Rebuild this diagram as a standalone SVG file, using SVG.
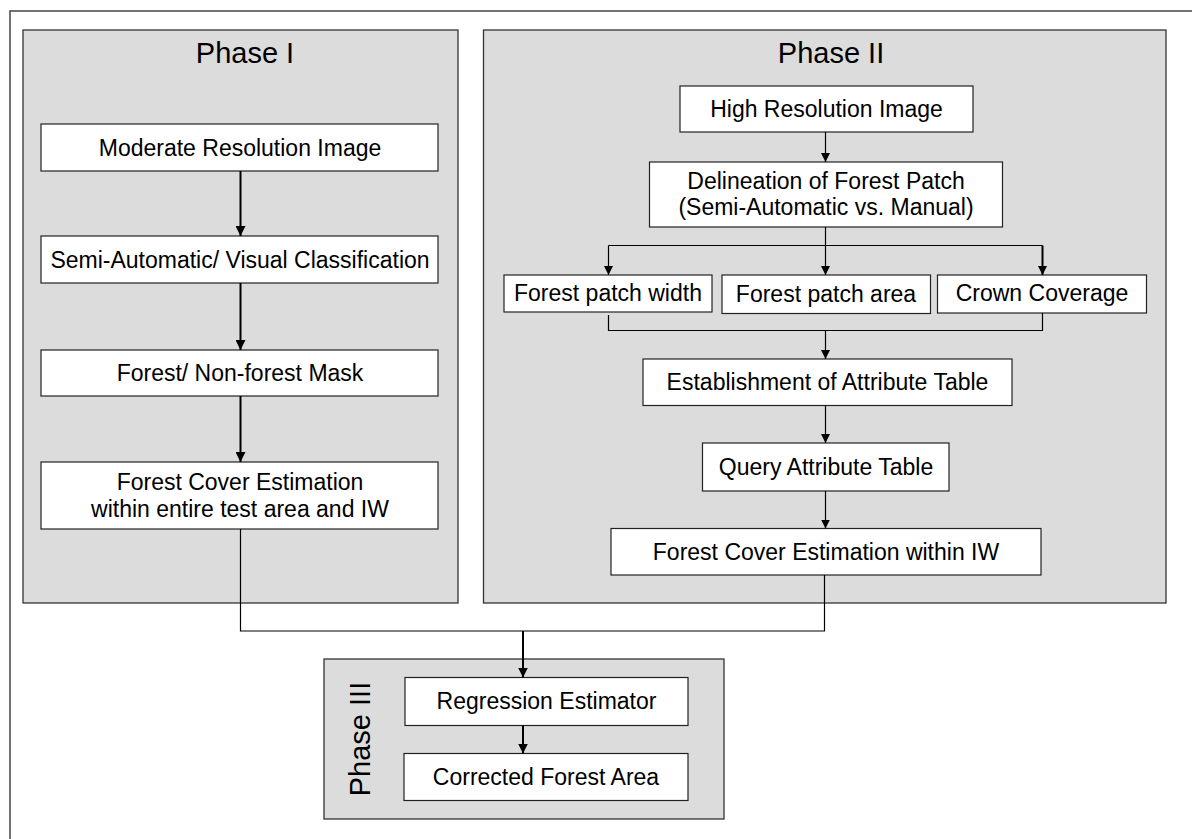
<svg xmlns="http://www.w3.org/2000/svg" width="1192" height="839" viewBox="0 0 1192 839">
<style>
.panel{fill:#dcdcdc;stroke:#333;stroke-width:1.3}
.box{fill:#fff;stroke:#222;stroke-width:1.2}
.t{font-family:"Liberation Sans",Arial,sans-serif;font-size:23px;fill:#000;text-anchor:middle}
.title{font-family:"Liberation Sans",Arial,sans-serif;font-size:29px;fill:#000;text-anchor:middle}
.c2{fill:none;stroke:#000;stroke-width:2}
.c1{fill:none;stroke:#000;stroke-width:1.2}
</style>
<defs>
<marker id="a2" viewBox="0 0 10 10" refX="10" refY="5" markerUnits="userSpaceOnUse" markerWidth="10" markerHeight="10" orient="auto"><path d="M0,0 L10,5 L0,10 Z" fill="#000"/></marker>
<marker id="a1" viewBox="0 0 10 10" refX="10" refY="5" markerUnits="userSpaceOnUse" markerWidth="9" markerHeight="9" orient="auto"><path d="M0,0 L10,5 L0,10 Z" fill="#000"/></marker>
</defs>
<rect width="1192" height="839" fill="#fff"/>
<g id="frame">
<path d="M10,839 V11 H1192" fill="none" stroke="#444" stroke-width="1.5"/>
</g>
<g id="phase1">
<rect class="panel" x="23" y="30" width="435" height="573"/>
<text class="title" x="245" y="63">Phase I</text>
</g>
<g id="phase2">
<rect class="panel" x="483.5" y="30" width="682.5" height="573"/>
<text class="title" x="831" y="63">Phase II</text>
</g>
<g id="phase3">
<rect class="panel" x="324" y="659" width="400" height="160"/>
<text class="title" transform="translate(370,739) rotate(-90)" x="0" y="0">Phase III</text>
</g>
<g id="n1"><rect class="box" x="41" y="124" width="397" height="47"/><text class="t" x="240" y="155.5">Moderate Resolution Image</text></g>
<g id="n2"><rect class="box" x="41" y="236" width="397" height="47"/><text class="t" x="240" y="267.5">Semi-Automatic/ Visual Classification</text></g>
<g id="n3"><rect class="box" x="41" y="350" width="397" height="46"/><text class="t" x="240" y="381">Forest/ Non-forest Mask</text></g>
<g id="n4"><rect class="box" x="41" y="462" width="397" height="67"/><text class="t" x="240" y="490">Forest Cover Estimation</text><text class="t" x="240" y="516.5">within entire test area and IW</text></g>
<g id="m1"><rect class="box" x="680" y="86" width="293" height="46"/><text class="t" x="826.5" y="117">High Resolution Image</text></g>
<g id="m2"><rect class="box" x="649.5" y="162" width="353" height="65"/><text class="t" x="826" y="189">Delineation of Forest Patch</text><text class="t" x="826" y="215">(Semi-Automatic vs. Manual)</text></g>
<g id="m3"><rect class="box" x="504" y="275" width="208" height="37"/><text class="t" x="608" y="301">Forest patch width</text></g>
<g id="m4"><rect class="box" x="722" y="275" width="208.5" height="38.5"/><text class="t" x="826" y="302">Forest patch area</text></g>
<g id="m5"><rect class="box" x="937.5" y="275" width="209" height="38"/><text class="t" x="1042" y="301">Crown Coverage</text></g>
<g id="m6"><rect class="box" x="643" y="359" width="369" height="46.5"/><text class="t" x="827.5" y="390">Establishment of Attribute Table</text></g>
<g id="m7"><rect class="box" x="702.5" y="443" width="246.5" height="48"/><text class="t" x="826" y="475">Query Attribute Table</text></g>
<g id="m8"><rect class="box" x="611" y="528.5" width="430" height="46.5"/><text class="t" x="826" y="559.5">Forest Cover Estimation within IW</text></g>
<g id="r1"><rect class="box" x="405" y="677.5" width="283" height="48"/><text class="t" x="546.5" y="709">Regression Estimator</text></g>
<g id="r2"><rect class="box" x="404" y="753.5" width="284" height="47"/><text class="t" x="546" y="784.5">Corrected Forest Area</text></g>
<g id="connectors">
<path class="c2" d="M240.5,171 V236" marker-end="url(#a2)"/>
<path class="c2" d="M240.5,283 V350" marker-end="url(#a2)"/>
<path class="c2" d="M240.5,396 V462" marker-end="url(#a2)"/>
<path class="c1" d="M825.5,132 V162" marker-end="url(#a1)"/>
<path class="c1" d="M825.5,227 V275" marker-end="url(#a1)"/>
<path class="c1" d="M608.5,245.5 H1042.5"/>
<path class="c1" d="M608.5,245.5 V275" marker-end="url(#a1)"/>
<path class="c2" d="M1042.5,245.5 V275" marker-end="url(#a1)"/>
<path class="c1" d="M608.5,315 V330.5 H1042.5 V313"/>
<path class="c1" d="M825.5,330.5 V359" marker-end="url(#a1)"/>
<path class="c1" d="M825.5,405.5 V443" marker-end="url(#a1)"/>
<path class="c1" d="M825.5,491 V528.5" marker-end="url(#a1)"/>
<path class="c1" d="M240.5,529 V631 H824.5 V575"/>
<path class="c2" d="M523,631 V677.5" marker-end="url(#a2)"/>
<path class="c2" d="M523,725.5 V753.5" marker-end="url(#a2)"/>
</g>
</svg>
